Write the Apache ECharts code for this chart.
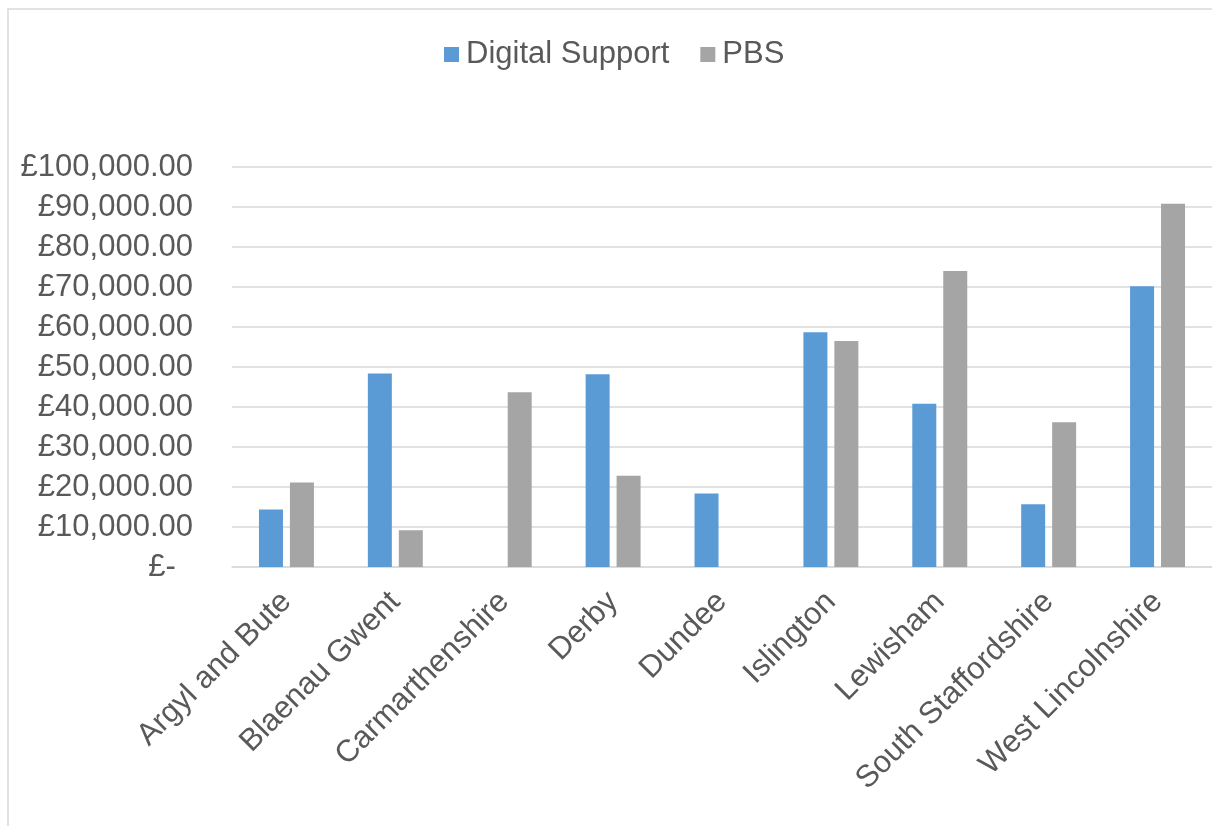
<!DOCTYPE html>
<html>
<head>
<meta charset="utf-8">
<script src="https://cdn.jsdelivr.net/npm/echarts@6/dist/echarts.min.js"></script>
<style>
  html, body { margin: 0; padding: 0; background: #fff; }
  #chart { width: 1212px; height: 826px; }
</style>
</head>
<body>
<div id="chart"></div>
<script>
const categories = [
  "Argyl and Bute",
  "Blaenau Gwent",
  "Carmarthenshire",
  "Derby",
  "Dundee",
  "Islington",
  "Lewisham",
  "South Staffordshire",
  "West Lincolnshire"
];
const digitalSupport = [14370, 48400, 0, 48200, 18400, 58700, 40800, 15700, 70200];
const pbs = [21100, 9200, 43700, 22800, 0, 56500, 74000, 36200, 90800];
const yMin = 0;
const yMax = 100000;
const yStep = 10000;

const font = "'Liberation Sans', Arial, sans-serif";
const textColor = "#595959";

function money(v) {
  if (v === 0) return "£-  ";
  return "£" + v.toLocaleString("en-GB", { minimumFractionDigits: 2, maximumFractionDigits: 2 });
}

let myChart = echarts.init(document.getElementById("chart"));
myChart.setOption({
  animation: false,
  color: ["#5b9bd5", "#a5a5a5"],
  textStyle: { fontFamily: font },
  graphic: [
    {
      type: "rect",
      shape: { x: 8, y: 9, width: 1300, height: 900 },
      style: { fill: "none", stroke: "#d9d9d9", lineWidth: 1.5 },
      silent: true
    }
  ],
  legend: {
    data: ["Digital Support", "PBS"],
    top: 34,
    left: 439,
    icon: "rect",
    itemWidth: 15,
    itemHeight: 15,
    itemGap: 31,
    textStyle: {
      fontSize: 31,
      color: textColor,
      fontFamily: font,
      padding: [0, 0, 0, 2]
    }
  },
  grid: {
    left: 232,
    top: 167,
    width: 984,
    bottom: 259
  },
  xAxis: {
    type: "category",
    data: categories,
    axisTick: { show: false },
    axisLine: { lineStyle: { color: "#d9d9d9", width: 1.5 } },
    axisLabel: {
      rotate: 45,
      interval: 0,
      margin: 30,
      fontSize: 31,
      color: textColor,
      fontFamily: font
    }
  },
  yAxis: {
    type: "value",
    min: yMin,
    max: yMax,
    interval: yStep,
    axisTick: { show: false },
    axisLine: { show: false },
    splitLine: { lineStyle: { color: "#d9d9d9", width: 1.5 } },
    axisLabel: {
      margin: 39,
      fontSize: 31,
      color: textColor,
      fontFamily: font,
      formatter: money
    }
  },
  series: [
    {
      name: "Digital Support",
      type: "bar",
      barWidth: 24,
      barGap: "29%",
      data: digitalSupport
    },
    {
      name: "PBS",
      type: "bar",
      barWidth: 24,
      barGap: "29%",
      data: pbs
    }
  ]
});
myChart.resize();
</script>
</body>
</html>
